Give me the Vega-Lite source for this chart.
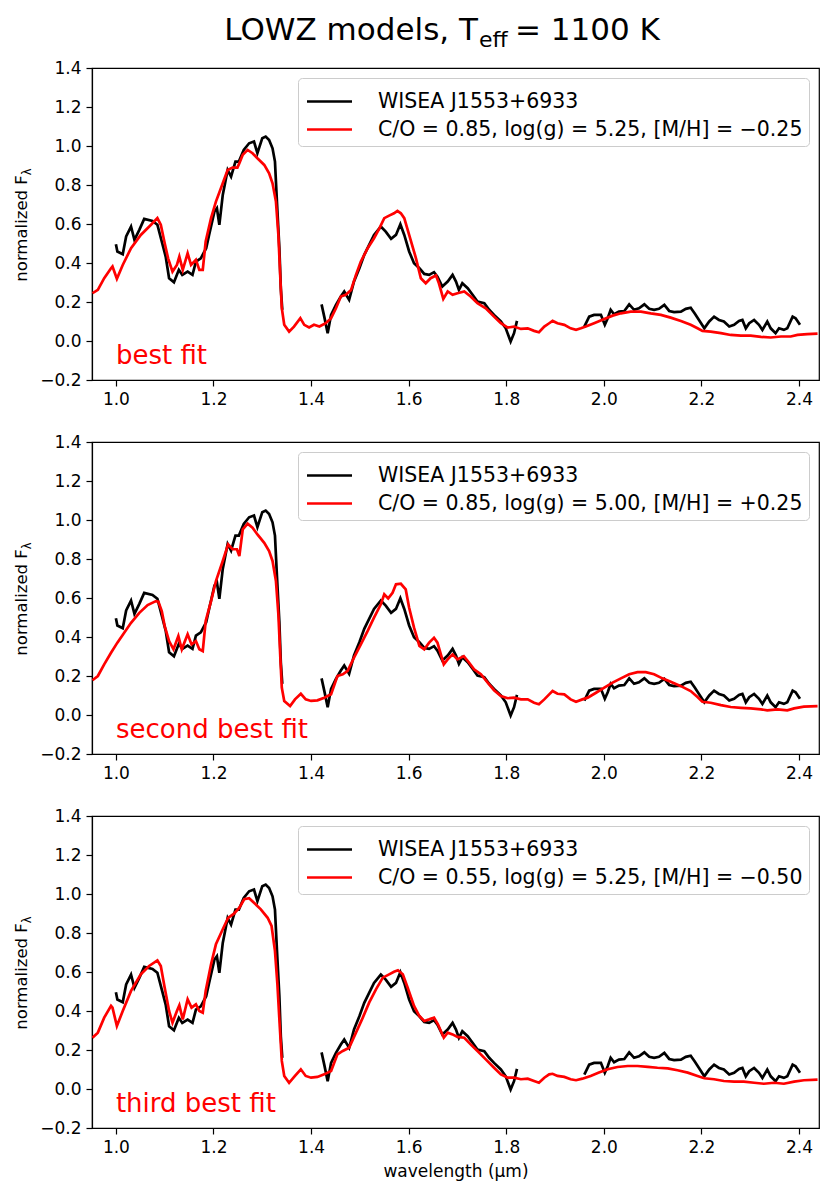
{
  "$schema": "https://vega.github.io/schema/vega-lite/v6.json",
  "background": "white",
  "padding": {"left": 13, "top": 14, "right": 13, "bottom": 10},
  "datasets": {
    "obs": [
      {"wl":1.000,"flux":0.496,"seg":1},{"wl":1.003,"flux":0.459,"seg":1},{"wl":1.014,"flux":0.445,"seg":1},{"wl":1.021,"flux":0.536,"seg":1},{"wl":1.031,"flux":0.587,"seg":1},{"wl":1.038,"flux":0.519,"seg":1},{"wl":1.048,"flux":0.570,"seg":1},{"wl":1.058,"flux":0.626,"seg":1},{"wl":1.075,"flux":0.616,"seg":1},{"wl":1.085,"flux":0.596,"seg":1},{"wl":1.095,"flux":0.501,"seg":1},{"wl":1.102,"flux":0.433,"seg":1},{"wl":1.109,"flux":0.322,"seg":1},{"wl":1.119,"flux":0.301,"seg":1},{"wl":1.129,"flux":0.365,"seg":1},{"wl":1.136,"flux":0.339,"seg":1},{"wl":1.147,"flux":0.356,"seg":1},{"wl":1.157,"flux":0.339,"seg":1},{"wl":1.164,"flux":0.407,"seg":1},{"wl":1.174,"flux":0.424,"seg":1},{"wl":1.185,"flux":0.476,"seg":1},{"wl":1.191,"flux":0.544,"seg":1},{"wl":1.202,"flux":0.664,"seg":1},{"wl":1.207,"flux":0.681,"seg":1},{"wl":1.212,"flux":0.596,"seg":1},{"wl":1.219,"flux":0.749,"seg":1},{"wl":1.229,"flux":0.877,"seg":1},{"wl":1.236,"flux":0.843,"seg":1},{"wl":1.245,"flux":0.920,"seg":1},{"wl":1.252,"flux":0.920,"seg":1},{"wl":1.262,"flux":0.980,"seg":1},{"wl":1.273,"flux":1.014,"seg":1},{"wl":1.283,"flux":1.023,"seg":1},{"wl":1.290,"flux":0.963,"seg":1},{"wl":1.300,"flux":1.040,"seg":1},{"wl":1.307,"flux":1.048,"seg":1},{"wl":1.314,"flux":1.031,"seg":1},{"wl":1.321,"flux":0.988,"seg":1},{"wl":1.326,"flux":0.920,"seg":1},{"wl":1.330,"flux":0.715,"seg":1},{"wl":1.335,"flux":0.476,"seg":1},{"wl":1.338,"flux":0.270,"seg":1},{"wl":1.341,"flux":0.160,"seg":1},
      {"wl":1.4215,"flux":0.188,"seg":2},{"wl":1.427,"flux":0.125,"seg":2},{"wl":1.434,"flux":0.040,"seg":2},{"wl":1.441,"flux":0.134,"seg":2},{"wl":1.451,"flux":0.185,"seg":2},{"wl":1.461,"flux":0.228,"seg":2},{"wl":1.468,"flux":0.254,"seg":2},{"wl":1.478,"flux":0.211,"seg":2},{"wl":1.488,"flux":0.305,"seg":2},{"wl":1.499,"flux":0.373,"seg":2},{"wl":1.509,"flux":0.442,"seg":2},{"wl":1.519,"flux":0.493,"seg":2},{"wl":1.529,"flux":0.544,"seg":2},{"wl":1.543,"flux":0.587,"seg":2},{"wl":1.553,"flux":0.561,"seg":2},{"wl":1.564,"flux":0.524,"seg":2},{"wl":1.574,"flux":0.544,"seg":2},{"wl":1.583,"flux":0.599,"seg":2},{"wl":1.591,"flux":0.544,"seg":2},{"wl":1.601,"flux":0.459,"seg":2},{"wl":1.611,"flux":0.399,"seg":2},{"wl":1.622,"flux":0.373,"seg":2},{"wl":1.632,"flux":0.344,"seg":2},{"wl":1.642,"flux":0.339,"seg":2},{"wl":1.652,"flux":0.353,"seg":2},{"wl":1.659,"flux":0.330,"seg":2},{"wl":1.669,"flux":0.279,"seg":2},{"wl":1.680,"flux":0.305,"seg":2},{"wl":1.690,"flux":0.339,"seg":2},{"wl":1.697,"flux":0.305,"seg":2},{"wl":1.703,"flux":0.262,"seg":2},{"wl":1.710,"flux":0.296,"seg":2},{"wl":1.721,"flux":0.271,"seg":2},{"wl":1.731,"flux":0.237,"seg":2},{"wl":1.741,"flux":0.202,"seg":2},{"wl":1.755,"flux":0.194,"seg":2},{"wl":1.765,"flux":0.160,"seg":2},{"wl":1.775,"flux":0.134,"seg":2},{"wl":1.789,"flux":0.100,"seg":2},{"wl":1.799,"flux":0.065,"seg":2},{"wl":1.809,"flux":-0.003,"seg":2},{"wl":1.816,"flux":0.040,"seg":2},{"wl":1.822,"flux":0.103,"seg":2},
      {"wl":1.960,"flux":0.074,"seg":3},{"wl":1.970,"flux":0.125,"seg":3},{"wl":1.980,"flux":0.134,"seg":3},{"wl":1.994,"flux":0.134,"seg":3},{"wl":2.002,"flux":0.083,"seg":3},{"wl":2.008,"flux":0.117,"seg":3},{"wl":2.014,"flux":0.160,"seg":3},{"wl":2.021,"flux":0.137,"seg":3},{"wl":2.031,"flux":0.151,"seg":3},{"wl":2.042,"flux":0.154,"seg":3},{"wl":2.052,"flux":0.188,"seg":3},{"wl":2.062,"flux":0.160,"seg":3},{"wl":2.072,"flux":0.168,"seg":3},{"wl":2.083,"flux":0.188,"seg":3},{"wl":2.093,"flux":0.165,"seg":3},{"wl":2.103,"flux":0.160,"seg":3},{"wl":2.113,"flux":0.165,"seg":3},{"wl":2.124,"flux":0.185,"seg":3},{"wl":2.134,"flux":0.154,"seg":3},{"wl":2.144,"flux":0.148,"seg":3},{"wl":2.158,"flux":0.151,"seg":3},{"wl":2.168,"flux":0.165,"seg":3},{"wl":2.178,"flux":0.171,"seg":3},{"wl":2.186,"flux":0.142,"seg":3},{"wl":2.195,"flux":0.108,"seg":3},{"wl":2.206,"flux":0.065,"seg":3},{"wl":2.216,"flux":0.100,"seg":3},{"wl":2.226,"flux":0.125,"seg":3},{"wl":2.236,"flux":0.108,"seg":3},{"wl":2.246,"flux":0.100,"seg":3},{"wl":2.257,"flux":0.074,"seg":3},{"wl":2.267,"flux":0.083,"seg":3},{"wl":2.277,"flux":0.103,"seg":3},{"wl":2.284,"flux":0.108,"seg":3},{"wl":2.291,"flux":0.065,"seg":3},{"wl":2.298,"flux":0.091,"seg":3},{"wl":2.308,"flux":0.108,"seg":3},{"wl":2.318,"flux":0.083,"seg":3},{"wl":2.325,"flux":0.057,"seg":3},{"wl":2.335,"flux":0.100,"seg":3},{"wl":2.342,"flux":0.065,"seg":3},{"wl":2.352,"flux":0.040,"seg":3},{"wl":2.359,"flux":0.065,"seg":3},{"wl":2.369,"flux":0.057,"seg":3},{"wl":2.376,"flux":0.065,"seg":3},{"wl":2.387,"flux":0.125,"seg":3},{"wl":2.393,"flux":0.117,"seg":3},{"wl":2.402,"flux":0.083,"seg":3}
    ],
    "m1": [
      {"wl":0.952,"flux":0.245},{"wl":0.963,"flux":0.262},{"wl":0.976,"flux":0.322},{"wl":0.990,"flux":0.373},{"wl":0.993,"flux":0.382},{"wl":1.002,"flux":0.319},{"wl":1.014,"flux":0.390},{"wl":1.031,"flux":0.476},{"wl":1.051,"flux":0.544},{"wl":1.072,"flux":0.596},{"wl":1.085,"flux":0.630},{"wl":1.092,"flux":0.596},{"wl":1.100,"flux":0.501},{"wl":1.107,"flux":0.424},{"wl":1.116,"flux":0.356},{"wl":1.125,"flux":0.390},{"wl":1.130,"flux":0.433},{"wl":1.137,"flux":0.365},{"wl":1.147,"flux":0.450},{"wl":1.154,"flux":0.390},{"wl":1.164,"flux":0.416},{"wl":1.171,"flux":0.365},{"wl":1.178,"flux":0.365},{"wl":1.184,"flux":0.510},{"wl":1.195,"flux":0.630},{"wl":1.205,"flux":0.715},{"wl":1.219,"flux":0.809},{"wl":1.229,"flux":0.877},{"wl":1.239,"flux":0.889},{"wl":1.249,"flux":0.889},{"wl":1.253,"flux":0.912},{"wl":1.260,"flux":0.955},{"wl":1.270,"flux":0.980},{"wl":1.280,"flux":0.963},{"wl":1.290,"flux":0.937},{"wl":1.304,"flux":0.903},{"wl":1.314,"flux":0.860},{"wl":1.321,"flux":0.809},{"wl":1.328,"flux":0.715},{"wl":1.333,"flux":0.544},{"wl":1.337,"flux":0.322},{"wl":1.340,"flux":0.168},{"wl":1.345,"flux":0.083},{"wl":1.355,"flux":0.048},{"wl":1.365,"flux":0.074},{"wl":1.378,"flux":0.117},{"wl":1.386,"flux":0.083},{"wl":1.396,"flux":0.069},{"wl":1.406,"flux":0.083},{"wl":1.417,"flux":0.074},{"wl":1.430,"flux":0.091},{"wl":1.441,"flux":0.117},{"wl":1.451,"flux":0.168},{"wl":1.461,"flux":0.228},{"wl":1.471,"flux":0.237},{"wl":1.482,"flux":0.262},{"wl":1.492,"flux":0.339},{"wl":1.502,"flux":0.407},{"wl":1.516,"flux":0.476},{"wl":1.529,"flux":0.527},{"wl":1.540,"flux":0.578},{"wl":1.550,"flux":0.630},{"wl":1.560,"flux":0.643},{"wl":1.570,"flux":0.655},{"wl":1.577,"flux":0.667},{"wl":1.584,"flux":0.655},{"wl":1.591,"flux":0.630},{"wl":1.601,"flux":0.544},{"wl":1.615,"flux":0.424},{"wl":1.625,"flux":0.322},{"wl":1.635,"flux":0.296},{"wl":1.645,"flux":0.322},{"wl":1.656,"flux":0.336},{"wl":1.662,"flux":0.296},{"wl":1.671,"flux":0.216},{"wl":1.680,"flux":0.254},{"wl":1.690,"flux":0.237},{"wl":1.700,"flux":0.245},{"wl":1.714,"flux":0.254},{"wl":1.727,"flux":0.228},{"wl":1.741,"flux":0.194},{"wl":1.758,"flux":0.168},{"wl":1.775,"flux":0.125},{"wl":1.789,"flux":0.091},{"wl":1.803,"flux":0.069},{"wl":1.816,"flux":0.074},{"wl":1.830,"flux":0.062},{"wl":1.844,"flux":0.065},{"wl":1.857,"flux":0.052},{"wl":1.867,"flux":0.045},{"wl":1.878,"flux":0.074},{"wl":1.888,"flux":0.091},{"wl":1.895,"flux":0.103},{"wl":1.905,"flux":0.091},{"wl":1.919,"flux":0.083},{"wl":1.932,"flux":0.065},{"wl":1.943,"flux":0.057},{"wl":1.953,"flux":0.065},{"wl":1.963,"flux":0.074},{"wl":1.980,"flux":0.091},{"wl":2.001,"flux":0.113},{"wl":2.018,"flux":0.130},{"wl":2.035,"flux":0.142},{"wl":2.055,"flux":0.151},{"wl":2.076,"flux":0.151},{"wl":2.096,"flux":0.142},{"wl":2.117,"flux":0.134},{"wl":2.137,"flux":0.120},{"wl":2.158,"flux":0.103},{"wl":2.178,"flux":0.083},{"wl":2.192,"flux":0.065},{"wl":2.202,"flux":0.052},{"wl":2.219,"flux":0.048},{"wl":2.240,"flux":0.040},{"wl":2.260,"flux":0.031},{"wl":2.281,"flux":0.028},{"wl":2.301,"flux":0.028},{"wl":2.322,"flux":0.021},{"wl":2.342,"flux":0.018},{"wl":2.363,"flux":0.023},{"wl":2.383,"flux":0.023},{"wl":2.397,"flux":0.031},{"wl":2.417,"flux":0.035},{"wl":2.438,"flux":0.038}
    ],
    "m2": [
      {"wl":0.952,"flux":0.178},{"wl":0.963,"flux":0.200},{"wl":0.976,"flux":0.260},{"wl":0.990,"flux":0.319},{"wl":1.003,"flux":0.371},{"wl":1.017,"flux":0.422},{"wl":1.031,"flux":0.473},{"wl":1.048,"flux":0.524},{"wl":1.065,"flux":0.564},{"wl":1.082,"flux":0.584},{"wl":1.087,"flux":0.581},{"wl":1.094,"flux":0.533},{"wl":1.100,"flux":0.456},{"wl":1.109,"flux":0.379},{"wl":1.118,"flux":0.337},{"wl":1.128,"flux":0.405},{"wl":1.135,"flux":0.337},{"wl":1.147,"flux":0.414},{"wl":1.155,"flux":0.362},{"wl":1.164,"flux":0.379},{"wl":1.171,"flux":0.337},{"wl":1.178,"flux":0.328},{"wl":1.184,"flux":0.482},{"wl":1.195,"flux":0.584},{"wl":1.205,"flux":0.687},{"wl":1.219,"flux":0.790},{"wl":1.230,"flux":0.875},{"wl":1.239,"flux":0.850},{"wl":1.248,"flux":0.850},{"wl":1.253,"flux":0.815},{"wl":1.260,"flux":0.952},{"wl":1.270,"flux":0.981},{"wl":1.280,"flux":0.960},{"wl":1.290,"flux":0.926},{"wl":1.304,"flux":0.883},{"wl":1.314,"flux":0.841},{"wl":1.321,"flux":0.790},{"wl":1.328,"flux":0.687},{"wl":1.333,"flux":0.516},{"wl":1.337,"flux":0.294},{"wl":1.340,"flux":0.140},{"wl":1.345,"flux":0.072},{"wl":1.357,"flux":0.046},{"wl":1.367,"flux":0.080},{"wl":1.379,"flux":0.109},{"wl":1.389,"flux":0.080},{"wl":1.400,"flux":0.072},{"wl":1.413,"flux":0.075},{"wl":1.427,"flux":0.089},{"wl":1.441,"flux":0.106},{"wl":1.454,"flux":0.200},{"wl":1.465,"flux":0.209},{"wl":1.475,"flux":0.226},{"wl":1.488,"flux":0.294},{"wl":1.502,"flux":0.362},{"wl":1.516,"flux":0.431},{"wl":1.529,"flux":0.499},{"wl":1.543,"flux":0.568},{"wl":1.550,"flux":0.619},{"wl":1.558,"flux":0.598},{"wl":1.567,"flux":0.627},{"wl":1.574,"flux":0.670},{"wl":1.584,"flux":0.673},{"wl":1.594,"flux":0.644},{"wl":1.601,"flux":0.550},{"wl":1.611,"flux":0.448},{"wl":1.622,"flux":0.354},{"wl":1.632,"flux":0.337},{"wl":1.642,"flux":0.371},{"wl":1.652,"flux":0.396},{"wl":1.659,"flux":0.371},{"wl":1.672,"flux":0.260},{"wl":1.680,"flux":0.285},{"wl":1.690,"flux":0.311},{"wl":1.700,"flux":0.285},{"wl":1.713,"flux":0.302},{"wl":1.724,"flux":0.268},{"wl":1.734,"flux":0.234},{"wl":1.748,"flux":0.209},{"wl":1.762,"flux":0.166},{"wl":1.775,"flux":0.127},{"wl":1.789,"flux":0.097},{"wl":1.803,"flux":0.086},{"wl":1.816,"flux":0.089},{"wl":1.830,"flux":0.080},{"wl":1.844,"flux":0.080},{"wl":1.857,"flux":0.063},{"wl":1.867,"flux":0.055},{"wl":1.878,"flux":0.080},{"wl":1.888,"flux":0.106},{"wl":1.895,"flux":0.123},{"wl":1.905,"flux":0.109},{"wl":1.919,"flux":0.106},{"wl":1.932,"flux":0.080},{"wl":1.943,"flux":0.068},{"wl":1.956,"flux":0.080},{"wl":1.967,"flux":0.089},{"wl":1.984,"flux":0.114},{"wl":2.001,"flux":0.140},{"wl":2.018,"flux":0.166},{"wl":2.035,"flux":0.188},{"wl":2.052,"flux":0.209},{"wl":2.069,"flux":0.220},{"wl":2.086,"flux":0.220},{"wl":2.103,"flux":0.209},{"wl":2.120,"flux":0.188},{"wl":2.137,"flux":0.171},{"wl":2.158,"flux":0.148},{"wl":2.178,"flux":0.123},{"wl":2.192,"flux":0.092},{"wl":2.202,"flux":0.068},{"wl":2.219,"flux":0.063},{"wl":2.240,"flux":0.051},{"wl":2.260,"flux":0.041},{"wl":2.281,"flux":0.037},{"wl":2.301,"flux":0.034},{"wl":2.322,"flux":0.029},{"wl":2.335,"flux":0.024},{"wl":2.356,"flux":0.029},{"wl":2.376,"flux":0.024},{"wl":2.390,"flux":0.034},{"wl":2.410,"flux":0.043},{"wl":2.438,"flux":0.046}
    ],
    "m3": [
      {"wl":0.952,"flux":0.263},{"wl":0.963,"flux":0.289},{"wl":0.976,"flux":0.366},{"wl":0.990,"flux":0.426},{"wl":0.993,"flux":0.417},{"wl":1.002,"flux":0.323},{"wl":1.014,"flux":0.400},{"wl":1.031,"flux":0.503},{"wl":1.051,"flux":0.588},{"wl":1.068,"flux":0.631},{"wl":1.085,"flux":0.660},{"wl":1.092,"flux":0.631},{"wl":1.100,"flux":0.519},{"wl":1.109,"flux":0.400},{"wl":1.116,"flux":0.340},{"wl":1.125,"flux":0.400},{"wl":1.130,"flux":0.429},{"wl":1.137,"flux":0.357},{"wl":1.147,"flux":0.460},{"wl":1.155,"flux":0.417},{"wl":1.164,"flux":0.434},{"wl":1.171,"flux":0.400},{"wl":1.178,"flux":0.391},{"wl":1.184,"flux":0.503},{"wl":1.195,"flux":0.640},{"wl":1.205,"flux":0.742},{"wl":1.219,"flux":0.819},{"wl":1.230,"flux":0.878},{"wl":1.242,"flux":0.899},{"wl":1.253,"flux":0.930},{"wl":1.263,"flux":0.973},{"wl":1.273,"flux":0.978},{"wl":1.283,"flux":0.955},{"wl":1.297,"flux":0.921},{"wl":1.311,"flux":0.878},{"wl":1.319,"flux":0.836},{"wl":1.326,"flux":0.708},{"wl":1.331,"flux":0.537},{"wl":1.336,"flux":0.314},{"wl":1.340,"flux":0.144},{"wl":1.345,"flux":0.067},{"wl":1.355,"flux":0.032},{"wl":1.367,"flux":0.067},{"wl":1.379,"flux":0.101},{"wl":1.389,"flux":0.067},{"wl":1.400,"flux":0.058},{"wl":1.413,"flux":0.062},{"wl":1.427,"flux":0.075},{"wl":1.441,"flux":0.092},{"wl":1.454,"flux":0.178},{"wl":1.465,"flux":0.195},{"wl":1.478,"flux":0.212},{"wl":1.492,"flux":0.289},{"wl":1.506,"flux":0.366},{"wl":1.519,"flux":0.443},{"wl":1.533,"flux":0.511},{"wl":1.547,"flux":0.571},{"wl":1.560,"flux":0.588},{"wl":1.570,"flux":0.601},{"wl":1.578,"flux":0.609},{"wl":1.588,"flux":0.588},{"wl":1.598,"flux":0.519},{"wl":1.611,"flux":0.426},{"wl":1.622,"flux":0.374},{"wl":1.632,"flux":0.349},{"wl":1.642,"flux":0.357},{"wl":1.652,"flux":0.366},{"wl":1.660,"flux":0.332},{"wl":1.672,"flux":0.263},{"wl":1.680,"flux":0.289},{"wl":1.690,"flux":0.280},{"wl":1.700,"flux":0.267},{"wl":1.714,"flux":0.263},{"wl":1.727,"flux":0.229},{"wl":1.741,"flux":0.195},{"wl":1.758,"flux":0.152},{"wl":1.775,"flux":0.109},{"wl":1.789,"flux":0.075},{"wl":1.803,"flux":0.058},{"wl":1.816,"flux":0.058},{"wl":1.830,"flux":0.050},{"wl":1.844,"flux":0.053},{"wl":1.857,"flux":0.041},{"wl":1.867,"flux":0.032},{"wl":1.878,"flux":0.058},{"wl":1.888,"flux":0.075},{"wl":1.895,"flux":0.078},{"wl":1.905,"flux":0.067},{"wl":1.919,"flux":0.062},{"wl":1.932,"flux":0.050},{"wl":1.943,"flux":0.045},{"wl":1.956,"flux":0.053},{"wl":1.973,"flux":0.067},{"wl":1.990,"flux":0.084},{"wl":2.008,"flux":0.101},{"wl":2.028,"flux":0.113},{"wl":2.049,"flux":0.118},{"wl":2.069,"flux":0.118},{"wl":2.090,"flux":0.113},{"wl":2.110,"flux":0.109},{"wl":2.131,"flux":0.106},{"wl":2.151,"flux":0.096},{"wl":2.172,"flux":0.084},{"wl":2.192,"flux":0.067},{"wl":2.206,"flux":0.055},{"wl":2.226,"flux":0.050},{"wl":2.246,"flux":0.041},{"wl":2.267,"flux":0.038},{"wl":2.287,"flux":0.038},{"wl":2.308,"flux":0.032},{"wl":2.328,"flux":0.027},{"wl":2.349,"flux":0.032},{"wl":2.369,"flux":0.027},{"wl":2.390,"flux":0.038},{"wl":2.410,"flux":0.045},{"wl":2.438,"flux":0.048}
    ]
  },
  "vconcat": [
    {
      "width": 727, "height": 312,
      "layer": [
        {"data": {"name": "obs"}, "mark": {"type": "line", "strokeWidth": 2.7, "clip": true},
         "encoding": {
           "x": {"field": "wl", "type": "quantitative", "scale": {"domain": [0.951, 2.441], "nice": false, "zero": false}, "axis": {"values": [1.0,1.2,1.4,1.6,1.8,2.0,2.2,2.4], "format": ".1f", "title": null}},
           "y": {"field": "flux", "type": "quantitative", "scale": {"domain": [-0.2, 1.4], "nice": false, "zero": false}, "axis": {"values": [-0.2,0,0.2,0.4,0.6,0.8,1.0,1.2,1.4], "format": ".1f", "title": null}},
           "detail": {"field": "seg", "type": "nominal"},
           "color": {"datum": "WISEA J1553+6933", "scale": {"domain": ["WISEA J1553+6933", "C/O = 0.85, log(g) = 5.25, [M/H] = −0.25"], "range": ["#000000", "#ff0000"]}}
         }},
        {"data": {"name": "m1"}, "mark": {"type": "line", "strokeWidth": 2.7, "clip": true},
         "encoding": {
           "x": {"field": "wl", "type": "quantitative", "axis": {"values": [1.0,1.2,1.4,1.6,1.8,2.0,2.2,2.4], "format": ".1f", "title": null}},
           "y": {"field": "flux", "type": "quantitative", "axis": {"values": [-0.2,0,0.2,0.4,0.6,0.8,1.0,1.2,1.4], "format": ".1f", "title": null}},
           "color": {"datum": "C/O = 0.85, log(g) = 5.25, [M/H] = −0.25"}
         }},
        {"data": {"values": [{"label": "best fit"}]}, "mark": {"type": "text", "color": "#ff0000", "fontSize": 26, "align": "left", "baseline": "alphabetic"},
         "encoding": {"x": {"datum": 1.0, "type": "quantitative", "axis": {"values": [1.0,1.2,1.4,1.6,1.8,2.0,2.2,2.4], "format": ".1f", "title": null}}, "y": {"datum": -0.118, "type": "quantitative", "axis": {"values": [-0.2,0,0.2,0.4,0.6,0.8,1.0,1.2,1.4], "format": ".1f", "title": null}}, "text": {"field": "label"}}},
        {"data": {"values": [{"label": "normalized  F"}]}, "mark": {"type": "text", "color": "#000000", "fontSize": 16.5, "angle": 270, "align": "right", "baseline": "alphabetic"},
         "encoding": {"x": {"datum": 0.817, "type": "quantitative", "axis": {"values": [1.0,1.2,1.4,1.6,1.8,2.0,2.2,2.4], "format": ".1f", "title": null}}, "y": {"datum": 0.85, "type": "quantitative", "axis": {"values": [-0.2,0,0.2,0.4,0.6,0.8,1.0,1.2,1.4], "format": ".1f", "title": null}}, "text": {"field": "label"}}},
        {"data": {"values": [{"label": "λ"}]}, "mark": {"type": "text", "color": "#000000", "fontSize": 11.5, "angle": 270, "align": "left", "baseline": "alphabetic", "dy": 4},
         "encoding": {"x": {"datum": 0.817, "type": "quantitative", "axis": {"values": [1.0,1.2,1.4,1.6,1.8,2.0,2.2,2.4], "format": ".1f", "title": null}}, "y": {"datum": 0.85, "type": "quantitative", "axis": {"values": [-0.2,0,0.2,0.4,0.6,0.8,1.0,1.2,1.4], "format": ".1f", "title": null}}, "text": {"field": "label"}}},
        {"data": {"values": [{"label": "LOWZ models, T"}]}, "mark": {"type": "text", "color": "#000000", "fontSize": 31, "align": "right", "baseline": "alphabetic"},
         "encoding": {"x": {"datum": 1.742, "type": "quantitative", "axis": {"values": [1.0,1.2,1.4,1.6,1.8,2.0,2.2,2.4], "format": ".1f", "title": null}}, "y": {"datum": 1.5436, "type": "quantitative", "axis": {"values": [-0.2,0,0.2,0.4,0.6,0.8,1.0,1.2,1.4], "format": ".1f", "title": null}}, "text": {"field": "label"}}},
        {"data": {"values": [{"label": "eff"}]}, "mark": {"type": "text", "color": "#000000", "fontSize": 22, "align": "left", "baseline": "alphabetic"},
         "encoding": {"x": {"datum": 1.744, "type": "quantitative", "axis": {"values": [1.0,1.2,1.4,1.6,1.8,2.0,2.2,2.4], "format": ".1f", "title": null}}, "y": {"datum": 1.5077, "type": "quantitative", "axis": {"values": [-0.2,0,0.2,0.4,0.6,0.8,1.0,1.2,1.4], "format": ".1f", "title": null}}, "text": {"field": "label"}}},
        {"data": {"values": [{"label": "= 1100 K"}]}, "mark": {"type": "text", "color": "#000000", "fontSize": 31, "align": "left", "baseline": "alphabetic"},
         "encoding": {"x": {"datum": 1.818, "type": "quantitative", "axis": {"values": [1.0,1.2,1.4,1.6,1.8,2.0,2.2,2.4], "format": ".1f", "title": null}}, "y": {"datum": 1.5436, "type": "quantitative", "axis": {"values": [-0.2,0,0.2,0.4,0.6,0.8,1.0,1.2,1.4], "format": ".1f", "title": null}}, "text": {"field": "label"}}}
      ]
    },
    {
      "width": 727, "height": 312,
      "layer": [
        {"data": {"name": "obs"}, "mark": {"type": "line", "strokeWidth": 2.7, "clip": true},
         "encoding": {
           "x": {"field": "wl", "type": "quantitative", "scale": {"domain": [0.951, 2.441], "nice": false, "zero": false}, "axis": {"values": [1.0,1.2,1.4,1.6,1.8,2.0,2.2,2.4], "format": ".1f", "title": null}},
           "y": {"field": "flux", "type": "quantitative", "scale": {"domain": [-0.2, 1.4], "nice": false, "zero": false}, "axis": {"values": [-0.2,0,0.2,0.4,0.6,0.8,1.0,1.2,1.4], "format": ".1f", "title": null}},
           "detail": {"field": "seg", "type": "nominal"},
           "color": {"datum": "WISEA J1553+6933", "scale": {"domain": ["WISEA J1553+6933", "C/O = 0.85, log(g) = 5.00, [M/H] = +0.25"], "range": ["#000000", "#ff0000"]}}
         }},
        {"data": {"name": "m2"}, "mark": {"type": "line", "strokeWidth": 2.7, "clip": true},
         "encoding": {
           "x": {"field": "wl", "type": "quantitative", "axis": {"values": [1.0,1.2,1.4,1.6,1.8,2.0,2.2,2.4], "format": ".1f", "title": null}},
           "y": {"field": "flux", "type": "quantitative", "axis": {"values": [-0.2,0,0.2,0.4,0.6,0.8,1.0,1.2,1.4], "format": ".1f", "title": null}},
           "color": {"datum": "C/O = 0.85, log(g) = 5.00, [M/H] = +0.25"}
         }},
        {"data": {"values": [{"label": "second best fit"}]}, "mark": {"type": "text", "color": "#ff0000", "fontSize": 26, "align": "left", "baseline": "alphabetic"},
         "encoding": {"x": {"datum": 1.0, "type": "quantitative", "axis": {"values": [1.0,1.2,1.4,1.6,1.8,2.0,2.2,2.4], "format": ".1f", "title": null}}, "y": {"datum": -0.118, "type": "quantitative", "axis": {"values": [-0.2,0,0.2,0.4,0.6,0.8,1.0,1.2,1.4], "format": ".1f", "title": null}}, "text": {"field": "label"}}},
        {"data": {"values": [{"label": "normalized  F"}]}, "mark": {"type": "text", "color": "#000000", "fontSize": 16.5, "angle": 270, "align": "right", "baseline": "alphabetic"},
         "encoding": {"x": {"datum": 0.817, "type": "quantitative", "axis": {"values": [1.0,1.2,1.4,1.6,1.8,2.0,2.2,2.4], "format": ".1f", "title": null}}, "y": {"datum": 0.85, "type": "quantitative", "axis": {"values": [-0.2,0,0.2,0.4,0.6,0.8,1.0,1.2,1.4], "format": ".1f", "title": null}}, "text": {"field": "label"}}},
        {"data": {"values": [{"label": "λ"}]}, "mark": {"type": "text", "color": "#000000", "fontSize": 11.5, "angle": 270, "align": "left", "baseline": "alphabetic", "dy": 4},
         "encoding": {"x": {"datum": 0.817, "type": "quantitative", "axis": {"values": [1.0,1.2,1.4,1.6,1.8,2.0,2.2,2.4], "format": ".1f", "title": null}}, "y": {"datum": 0.85, "type": "quantitative", "axis": {"values": [-0.2,0,0.2,0.4,0.6,0.8,1.0,1.2,1.4], "format": ".1f", "title": null}}, "text": {"field": "label"}}}
      ]
    },
    {
      "width": 727, "height": 312,
      "layer": [
        {"data": {"name": "obs"}, "mark": {"type": "line", "strokeWidth": 2.7, "clip": true},
         "encoding": {
           "x": {"field": "wl", "type": "quantitative", "scale": {"domain": [0.951, 2.441], "nice": false, "zero": false}, "axis": {"values": [1.0,1.2,1.4,1.6,1.8,2.0,2.2,2.4], "format": ".1f", "title": "wavelength (μm)"}},
           "y": {"field": "flux", "type": "quantitative", "scale": {"domain": [-0.2, 1.4], "nice": false, "zero": false}, "axis": {"values": [-0.2,0,0.2,0.4,0.6,0.8,1.0,1.2,1.4], "format": ".1f", "title": null}},
           "detail": {"field": "seg", "type": "nominal"},
           "color": {"datum": "WISEA J1553+6933", "scale": {"domain": ["WISEA J1553+6933", "C/O = 0.55, log(g) = 5.25, [M/H] = −0.50"], "range": ["#000000", "#ff0000"]}}
         }},
        {"data": {"name": "m3"}, "mark": {"type": "line", "strokeWidth": 2.7, "clip": true},
         "encoding": {
           "x": {"field": "wl", "type": "quantitative", "axis": {"values": [1.0,1.2,1.4,1.6,1.8,2.0,2.2,2.4], "format": ".1f", "title": "wavelength (μm)"}},
           "y": {"field": "flux", "type": "quantitative", "axis": {"values": [-0.2,0,0.2,0.4,0.6,0.8,1.0,1.2,1.4], "format": ".1f", "title": null}},
           "color": {"datum": "C/O = 0.55, log(g) = 5.25, [M/H] = −0.50"}
         }},
        {"data": {"values": [{"label": "third best fit"}]}, "mark": {"type": "text", "color": "#ff0000", "fontSize": 26, "align": "left", "baseline": "alphabetic"},
         "encoding": {"x": {"datum": 1.0, "type": "quantitative", "axis": {"values": [1.0,1.2,1.4,1.6,1.8,2.0,2.2,2.4], "format": ".1f", "title": "wavelength (μm)"}}, "y": {"datum": -0.118, "type": "quantitative", "axis": {"values": [-0.2,0,0.2,0.4,0.6,0.8,1.0,1.2,1.4], "format": ".1f", "title": null}}, "text": {"field": "label"}}},
        {"data": {"values": [{"label": "normalized  F"}]}, "mark": {"type": "text", "color": "#000000", "fontSize": 16.5, "angle": 270, "align": "right", "baseline": "alphabetic"},
         "encoding": {"x": {"datum": 0.817, "type": "quantitative", "axis": {"values": [1.0,1.2,1.4,1.6,1.8,2.0,2.2,2.4], "format": ".1f", "title": "wavelength (μm)"}}, "y": {"datum": 0.85, "type": "quantitative", "axis": {"values": [-0.2,0,0.2,0.4,0.6,0.8,1.0,1.2,1.4], "format": ".1f", "title": null}}, "text": {"field": "label"}}},
        {"data": {"values": [{"label": "λ"}]}, "mark": {"type": "text", "color": "#000000", "fontSize": 11.5, "angle": 270, "align": "left", "baseline": "alphabetic", "dy": 4},
         "encoding": {"x": {"datum": 0.817, "type": "quantitative", "axis": {"values": [1.0,1.2,1.4,1.6,1.8,2.0,2.2,2.4], "format": ".1f", "title": "wavelength (μm)"}}, "y": {"datum": 0.85, "type": "quantitative", "axis": {"values": [-0.2,0,0.2,0.4,0.6,0.8,1.0,1.2,1.4], "format": ".1f", "title": null}}, "text": {"field": "label"}}}
      ]
    }
  ],
  "spacing": 62,
  "bounds": "flush",
  "resolve": {"scale": {"color": "independent"}, "legend": {"color": "independent"}},
  "config": {
    "font": "DejaVu Sans",
    "view": {"stroke": "#000000", "strokeWidth": 1.2},
    "text": {"font": "DejaVu Sans"},
    "axis": {"labelFont": "DejaVu Sans", "labelFontSize": 17, "labelColor": "#000000", "tickColor": "#000000", "domainColor": "#000000", "tickSize": 6, "tickWidth": 1.2, "domainWidth": 1.2, "grid": false, "labelPadding": 5, "titleFont": "DejaVu Sans", "titleFontSize": 17, "titleFontWeight": "normal", "titleColor": "#000000", "titlePadding": 8},
    "legend": {"title": null, "orient": "top-right", "offset": 10, "symbolType": "M-1.423,0L1.423,0", "symbolStrokeWidth": 2.7, "symbolSize": 1000, "symbolOffset": 8, "symbolFillColor": "transparent", "labelFont": "DejaVu Sans", "labelFontSize": 20.5, "labelColor": "#000000", "labelLimit": 800, "labelOffset": 31, "fillColor": "#ffffff", "strokeColor": "#cccccc", "cornerRadius": 4, "padding": 6, "rowPadding": 0}
  }
}
